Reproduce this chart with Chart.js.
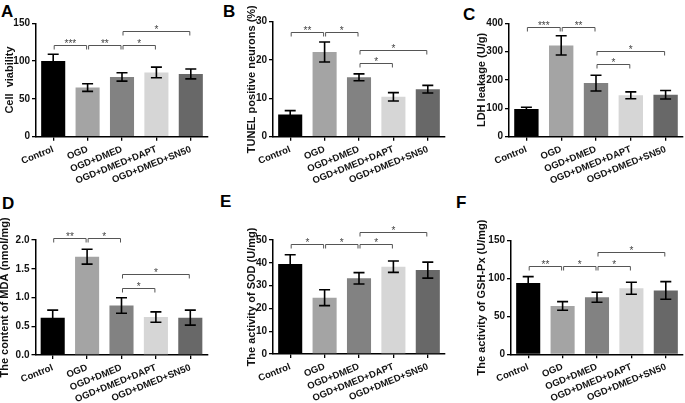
<!DOCTYPE html>
<html>
<head>
<meta charset="utf-8">
<script src="https://cdn.jsdelivr.net/npm/chart.js@4.4.0/dist/chart.umd.min.js"></script>
<style>
  body { margin: 0; background: #fff; width: 685px; height: 403px; position: relative; overflow: hidden;
         font-family: "Liberation Sans", Arial, sans-serif; }
  canvas { position: absolute; }
  .letter { position: absolute; font-weight: bold; font-size: 17px; line-height: 17px; color: #000; }
</style>
</head>
<body>
<div class="letter" style="left:1px;top:3px">A</div>
<div class="letter" style="left:223px;top:3px">B</div>
<div class="letter" style="left:463px;top:6px">C</div>
<div class="letter" style="left:2px;top:195px">D</div>
<div class="letter" style="left:220px;top:193px">E</div>
<div class="letter" style="left:456px;top:194px">F</div>

<canvas id="chartA"></canvas>
<canvas id="chartB"></canvas>
<canvas id="chartC"></canvas>
<canvas id="chartD"></canvas>
<canvas id="chartE"></canvas>
<canvas id="chartF"></canvas>

<script>
var groups = ['Control', 'OGD', 'OGD+DMED', 'OGD+DMED+DAPT', 'OGD+DMED+SN50'];

// A - cell viability
var viability = [100, 65, 79, 85, 83];
var viabilityErr = [9, 5, 5.5, 7, 6.5];
var viabilityTicks = [0, 50, 100, 150];
var viabilityStars = [[0, 1, 121, '***'], [1, 2, 121, '**'], [2, 3, 121, '*'], [2, 4, 139.5, '*']];

// B - TUNEL
var tunel = [5.8, 22.1, 15.5, 10.4, 12.4];
var tunelErr = [1.0, 2.6, 0.9, 1.1, 1.0];
var tunelTicks = [0, 10, 20, 30];
var tunelStars = [[0, 1, 27.4, '**'], [1, 2, 27.4, '*'], [2, 4, 22.6, '*'], [2, 3, 19.1, '*']];

// C - LDH
var ldh = [98, 322, 189, 146, 148];
var ldhErr = [6, 34, 28, 12, 15];
var ldhTicks = [0, 100, 200, 300, 400];
var ldhStars = [[0, 1, 388, '***'], [1, 2, 388, '**'], [2, 4, 302, '*'], [2, 3, 256, '*']];

// D - MDA
var mda = [0.65, 1.71, 0.86, 0.66, 0.65];
var mdaErr = [0.13, 0.13, 0.135, 0.09, 0.13];
var mdaTicks = [0, 0.5, 1.0, 1.5, 2.0];
var mdaStars = [[0, 1, 2.03, '**'], [1, 2, 2.03, '*'], [2, 4, 1.41, '*'], [2, 3, 1.17, '*']];

// E - SOD
var sod = [39.5, 24.7, 33.2, 38.3, 36.8];
var sodErr = [4, 3.5, 2.5, 2.5, 3.5];
var sodTicks = [0, 10, 20, 30, 40, 50];
var sodStars = [[0, 1, 48.2, '*'], [1, 2, 48.2, '*'], [2, 3, 48.2, '*'], [2, 4, 53.6, '*']];

// F - GSH-Px
var gsh = [94, 63.8, 75.3, 87.2, 84.3];
var gshErr = [8.5, 5.7, 6.6, 8, 11.7];
var gshTicks = [0, 50, 100, 150];
var gshStars = [[0, 1, 116.7, '**'], [1, 2, 116.7, '*'], [2, 3, 116.7, '*'], [2, 4, 135.5, '*']];

var FONT = '"Liberation Sans", Arial, sans-serif';
var barColours = ['#000000', '#a4a4a4', '#828282', '#d6d6d6', '#686868'];

function makebarchart(p) {
    var canvas = document.getElementById(p.id);
    canvas.width = p.box[2];
    canvas.height = p.box[3];
    canvas.style.left = p.box[0] + 'px';
    canvas.style.top = p.box[1] + 'px';

    // chart area in canvas coords
    var left = p.area[0] - p.box[0];
    var top = p.area[1] - p.box[1];
    var right = p.area[2] - p.box[0];
    var bottom = p.area[3] - p.box[1];
    var padLeft = p.titleX - p.box[0] - 6.6;

    var errorbars = {
        id: 'errorbars',
        afterDatasetsDraw: function(chart) {
            var ctx = chart.ctx;
            var bars = chart.getDatasetMeta(0).data;
            var y = chart.scales.y;
            ctx.save();
            ctx.strokeStyle = '#000';
            ctx.lineWidth = 1.6;
            bars.forEach(function(bar, i) {
                var hi = y.getPixelForValue(p.values[i] + p.err[i]);
                var lo = y.getPixelForValue(p.values[i] - p.err[i]);
                ctx.beginPath();
                ctx.moveTo(bar.x, hi);
                ctx.lineTo(bar.x, lo);
                ctx.moveTo(bar.x - 5.5, hi);
                ctx.lineTo(bar.x + 5.5, hi);
                ctx.moveTo(bar.x - 5.5, lo);
                ctx.lineTo(bar.x + 5.5, lo);
                ctx.stroke();
            });

            // significance brackets
            ctx.strokeStyle = '#555';
            ctx.lineWidth = 1;
            ctx.fillStyle = '#444';
            ctx.font = '10px ' + FONT;
            ctx.textAlign = 'center';
            ctx.textBaseline = 'alphabetic';
            p.stars.forEach(function(s) {
                var x1 = bars[s[0]].x + 1;
                var x2 = bars[s[1]].x - 1;
                var yy = Math.round(y.getPixelForValue(s[2])) + 0.5;
                ctx.beginPath();
                ctx.moveTo(x1, yy + 4);
                ctx.lineTo(x1, yy);
                ctx.lineTo(x2, yy);
                ctx.lineTo(x2, yy + 4);
                ctx.stroke();
                ctx.fillText(s[3], (x1 + x2) / 2, yy + 1);
            });
            ctx.restore();
        }
    };

    new Chart(canvas.getContext('2d'), {
        type: 'bar',
        data: {
            labels: groups,
            datasets: [{
                data: p.values,
                backgroundColor: barColours,
                borderWidth: 0,
                barPercentage: 0.7,
                categoryPercentage: 1
            }]
        },
        options: {
            responsive: false,
            animation: false,
            devicePixelRatio: 1,
            layout: { padding: { left: padLeft, top: top, right: p.box[2] - right, bottom: 0 } },
            plugins: { legend: { display: false }, tooltip: { enabled: false } },
            scales: {
                x: {
                    grid: { display: true, drawOnChartArea: false, offset: false, tickLength: 4, color: '#000', lineWidth: 1.3 },
                    border: { display: true, color: '#000', width: 1.5 },
                    ticks: { autoSkip: false, minRotation: 22, maxRotation: 22, padding: 3, color: '#111',
                             font: { family: FONT, size: 9.5, weight: 'bold' } },
                    afterFit: function(scale) { scale.height = p.box[3] - bottom; }
                },
                y: {
                    min: p.ticks[0],
                    max: p.ticks[p.ticks.length - 1],
                    grid: { display: true, drawOnChartArea: false, tickLength: 4, color: '#000', lineWidth: 1.3 },
                    border: { display: true, color: '#000', width: 1.5 },
                    ticks: { padding: 2, color: '#111', font: { family: FONT, size: 10, weight: 'bold' },
                             callback: function(v) { return Number(v).toFixed(p.decimals); } },
                    afterBuildTicks: function(scale) {
                        scale.ticks = p.ticks.map(function(v) { return { value: v }; });
                    },
                    title: { display: true, text: p.title, padding: 0, color: '#111',
                             font: { family: FONT, size: 11, weight: 'bold' } },
                    afterFit: function(scale) { scale.width = left - padLeft; }
                }
            }
        },
        plugins: [errorbars]
    });
}

makebarchart({ id: 'chartA', box: [0, 0, 228, 200], area: [36, 23.3, 208, 136.7], titleX: 10,
    title: 'Cell  viability', values: viability, err: viabilityErr, ticks: viabilityTicks, stars: viabilityStars, decimals: 0 });
makebarchart({ id: 'chartB', box: [228, 0, 227, 200], area: [273, 21.7, 445, 136.7], titleX: 252,
    title: 'TUNEL positive neurons (%)', values: tunel, err: tunelErr, ticks: tunelTicks, stars: tunelStars, decimals: 0 });
makebarchart({ id: 'chartC', box: [455, 0, 230, 200], area: [509, 23.3, 683, 136.7], titleX: 482,
    title: 'LDH leakage (U/g)', values: ldh, err: ldhErr, ticks: ldhTicks, stars: ldhStars, decimals: 0 });
makebarchart({ id: 'chartD', box: [0, 200, 228, 203], area: [35.5, 240, 207.5, 355], titleX: 5,
    title: 'The content of MDA (nmol/mg)', values: mda, err: mdaErr, ticks: mdaTicks, stars: mdaStars, decimals: 1 });
makebarchart({ id: 'chartE', box: [228, 200, 227, 203], area: [273, 240, 445, 354], titleX: 252,
    title: 'The activity of SOD (U/mg)', values: sod, err: sodErr, ticks: sodTicks, stars: sodStars, decimals: 0 });
makebarchart({ id: 'chartF', box: [455, 200, 230, 203], area: [511, 240.7, 683, 354.3], titleX: 482,
    title: 'The activity of GSH-Px (U/mg)', values: gsh, err: gshErr, ticks: gshTicks, stars: gshStars, decimals: 0 });
</script>
</body>
</html>
